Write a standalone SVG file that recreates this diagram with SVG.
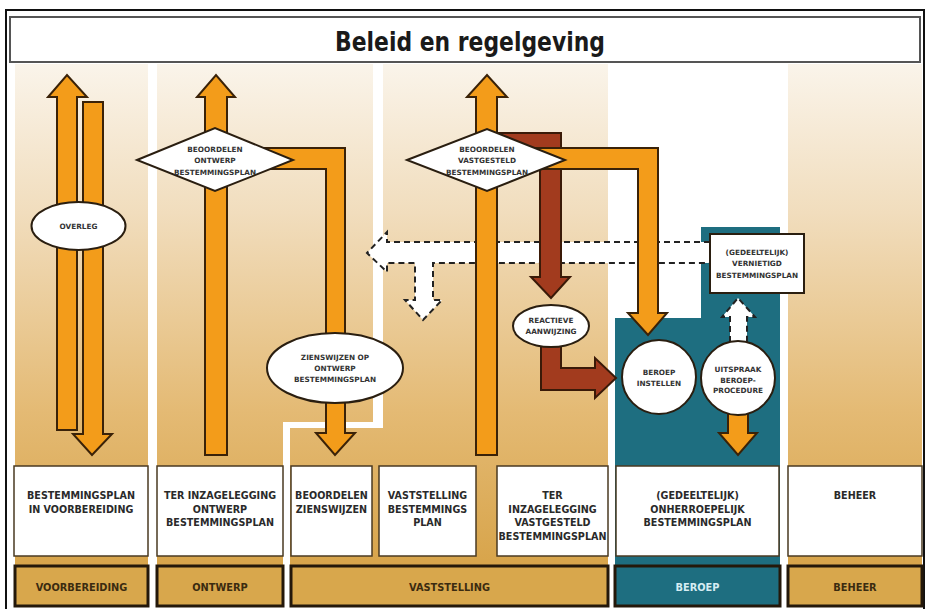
<svg xmlns="http://www.w3.org/2000/svg" width="929" height="609" viewBox="0 0 929 609">
<defs>
<linearGradient id="tan" gradientUnits="userSpaceOnUse" x1="0" y1="64" x2="0" y2="560">
<stop offset="0" stop-color="#FAF4EA"/>
<stop offset="0.3" stop-color="#F1DDBD"/>
<stop offset="0.7" stop-color="#E4BA74"/>
<stop offset="1" stop-color="#D8A54C"/>
</linearGradient>
<style>
.panel{fill:url(#tan)}
.teal{fill:#1E6E80}
.arrow{fill:#F39C1A;stroke:#3a2208;stroke-width:2;stroke-linejoin:miter}
.brown{fill:#A23B1E;stroke:#3a1a08;stroke-width:2;stroke-linejoin:miter}
.dash{fill:#fff;stroke:#222;stroke-width:2;stroke-dasharray:6 4}
.node{fill:#fff;stroke:#2a1e10;stroke-width:2}
.box{fill:#fff;stroke:#4a3a22;stroke-width:1.5}
.phase{fill:#D8A74C;stroke:#24180a;stroke-width:3}
.sm{font-family:"DejaVu Sans",Verdana,sans-serif;font-weight:bold;font-size:7.3px;fill:#333;text-anchor:middle}
.lb{font-family:"DejaVu Sans",Verdana,sans-serif;font-weight:bold;font-size:9.6px;fill:#2a2a2a;text-anchor:middle}
.ph{font-family:"DejaVu Sans",Verdana,sans-serif;font-weight:bold;font-size:9.8px;fill:#3b2b10;text-anchor:middle}
</style>
</defs>
<rect x="0" y="0" width="929" height="609" fill="#fff"/>
<rect x="6" y="10" width="918" height="610" fill="none" stroke="#111" stroke-width="2"/>

<g id="background">
<rect class="panel" x="15" y="64" width="133" height="501"/>
<polygon class="panel" points="157,64 373,64 373,422 283,422 283,565 157,565"/>
<polygon class="panel" points="383,64 608,64 608,565 290,565 290,428 383,428"/>
<polygon class="teal" points="615,318 701,318 701,227 780,227 780,565 615,565"/>
<rect class="panel" x="788" y="64" width="134" height="501"/>
</g>

<g id="title">
<rect x="10" y="17" width="910" height="45" fill="#fff" stroke="#555" stroke-width="2"/>
<text x="470" y="51" font-family="DejaVu Sans,Verdana,sans-serif" font-weight="bold" font-size="26" fill="#1a1a1a" text-anchor="middle" textLength="270" lengthAdjust="spacingAndGlyphs">Beleid en regelgeving</text>
</g>

<g id="connectors">
<polygon class="dash" points="710,242 387,242 387,232 367,253 387,272 387,263 415,263 415,300 405,300 423,320 442,300 433,300 433,263 710,263"/>
<polygon class="dash" points="730,342 730,317 722,317 738,298 755,317 747,317 747,342"/>
<polygon class="arrow" points="57,430 57,97 48,97 67,75 87,97 77,97 77,430"/>
<polygon class="arrow" points="83,102 103,102 103,434 112,434 92,455 73,434 83,434"/>
<polygon class="arrow" points="205,455 205,97 197,97 216,75 235,97 227,97 227,455"/>
<polygon class="arrow" points="250,148 345,148 345,433 355,433 335,455 316,433 326,433 326,169 250,169"/>
<polygon class="brown" points="490,133 561,133 561,277 570,277 551,298 531,277 540,277 540,155 490,155"/>
<polygon class="arrow" points="476,455 476,97 467,97 487,75 507,97 497,97 497,455"/>
<polygon class="arrow" points="530,148 658,148 658,313 667,313 648,335 628,313 638,313 638,169 530,169"/>
<polygon class="brown" points="541,340 541,390 595,390 595,398 616,378 595,358 595,368 561,368 561,340"/>
<polygon class="arrow" points="728,405 728,433 719,433 738,455 757,433 748,433 748,405"/>
</g>

<g id="overleg">
<ellipse class="node" cx="78.5" cy="226" rx="47" ry="24"/>
<text class="sm" x="78.5" y="229">OVERLEG</text>
</g>
<g id="beoordelen-ontwerp">
<polygon class="node" points="137,160 215,128 293,160 215,191"/>
<text class="sm" x="215" y="151.5">BEOORDELEN</text>
<text class="sm" x="215" y="163">ONTWERP</text>
<text class="sm" x="215" y="174.5">BESTEMMINGSPLAN</text>
</g>
<g id="beoordelen-vastgesteld">
<polygon class="node" points="407,160 487,129 565,160 487,191"/>
<text class="sm" x="487" y="151.5">BEOORDELEN</text>
<text class="sm" x="487" y="163">VASTGESTELD</text>
<text class="sm" x="487" y="174.5">BESTEMMINGSPLAN</text>
</g>
<g id="zienswijzen">
<ellipse class="node" cx="335" cy="368" rx="68" ry="35"/>
<text class="sm" x="335" y="360">ZIENSWIJZEN OP</text>
<text class="sm" x="335" y="371">ONTWERP</text>
<text class="sm" x="335" y="382">BESTEMMINGSPLAN</text>
</g>
<g id="reactieve-aanwijzing">
<ellipse class="node" cx="551" cy="326" rx="38" ry="21"/>
<text class="sm" x="551" y="322.7">REACTIEVE</text>
<text class="sm" x="551" y="333.7">AANWIJZING</text>
</g>
<g id="beroep-instellen">
<circle class="node" cx="659" cy="377" r="37"/>
<text class="sm" x="659" y="374.7">BEROEP</text>
<text class="sm" x="659" y="385.7">INSTELLEN</text>
</g>
<g id="uitspraak">
<circle class="node" cx="738" cy="378" r="37"/>
<text class="sm" x="738" y="372">UITSPRAAK</text>
<text class="sm" x="738" y="382.5">BEROEP-</text>
<text class="sm" x="738" y="393">PROCEDURE</text>
</g>
<g id="vernietigd">
<rect class="node" x="710" y="234" width="94" height="59"/>
<text class="sm" x="757" y="254.7">(GEDEELTELIJK)</text>
<text class="sm" x="757" y="266.2">VERNIETIGD</text>
<text class="sm" x="757" y="277.7">BESTEMMINGSPLAN</text>
</g>

<g id="box-voorbereiding">
<rect class="box" x="14" y="466" width="134" height="90"/>
<text class="lb" x="81" y="499">BESTEMMINGSPLAN</text>
<text class="lb" x="81" y="512.5">IN VOORBEREIDING</text>
</g>
<g id="box-ter-inzage-ontwerp">
<rect class="box" x="157" y="466" width="126" height="90"/>
<text class="lb" x="220" y="499">TER INZAGELEGGING</text>
<text class="lb" x="220" y="512.5">ONTWERP</text>
<text class="lb" x="220" y="526">BESTEMMINGSPLAN</text>
</g>
<g id="box-beoordelen-zienswijzen">
<rect class="box" x="291" y="466" width="81" height="90"/>
<text class="lb" x="331.5" y="499">BEOORDELEN</text>
<text class="lb" x="331.5" y="512.5">ZIENSWIJZEN</text>
</g>
<g id="box-vaststelling">
<rect class="box" x="379" y="466" width="97" height="90"/>
<text class="lb" x="427.5" y="499">VASTSTELLING</text>
<text class="lb" x="427.5" y="512.5">BESTEMMINGS</text>
<text class="lb" x="427.5" y="526">PLAN</text>
</g>
<g id="box-ter-inzage-vastgesteld">
<rect class="box" x="497" y="466" width="111" height="90"/>
<text class="lb" x="552.5" y="499">TER</text>
<text class="lb" x="552.5" y="512.5">INZAGELEGGING</text>
<text class="lb" x="552.5" y="526">VASTGESTELD</text>
<text class="lb" x="552.5" y="539.5">BESTEMMINGSPLAN</text>
</g>
<g id="box-onherroepelijk">
<rect class="box" x="616" y="466" width="163" height="90"/>
<text class="lb" x="697.5" y="499">(GEDEELTELIJK)</text>
<text class="lb" x="697.5" y="512.5">ONHERROEPELIJK</text>
<text class="lb" x="697.5" y="526">BESTEMMINGSPLAN</text>
</g>
<g id="box-beheer">
<rect class="box" x="788" y="466" width="134" height="90"/>
<text class="lb" x="855" y="499">BEHEER</text>
</g>

<g id="phase-voorbereiding">
<rect class="phase" x="15" y="566" width="133" height="40"/>
<text class="ph" x="81.5" y="591">VOORBEREIDING</text>
</g>
<g id="phase-ontwerp">
<rect class="phase" x="157" y="566" width="126" height="40"/>
<text class="ph" x="220" y="591">ONTWERP</text>
</g>
<g id="phase-vaststelling">
<rect class="phase" x="291" y="566" width="317" height="40"/>
<text class="ph" x="449.5" y="591">VASTSTELLING</text>
</g>
<g id="phase-beroep">
<rect class="phase" x="615" y="566" width="165" height="40" style="fill:#1E6E80"/>
<text class="ph" x="697.5" y="591" style="fill:#D6ECF3">BEROEP</text>
</g>
<g id="phase-beheer">
<rect class="phase" x="788" y="566" width="134" height="40"/>
<text class="ph" x="855" y="591">BEHEER</text>
</g>
</svg>
